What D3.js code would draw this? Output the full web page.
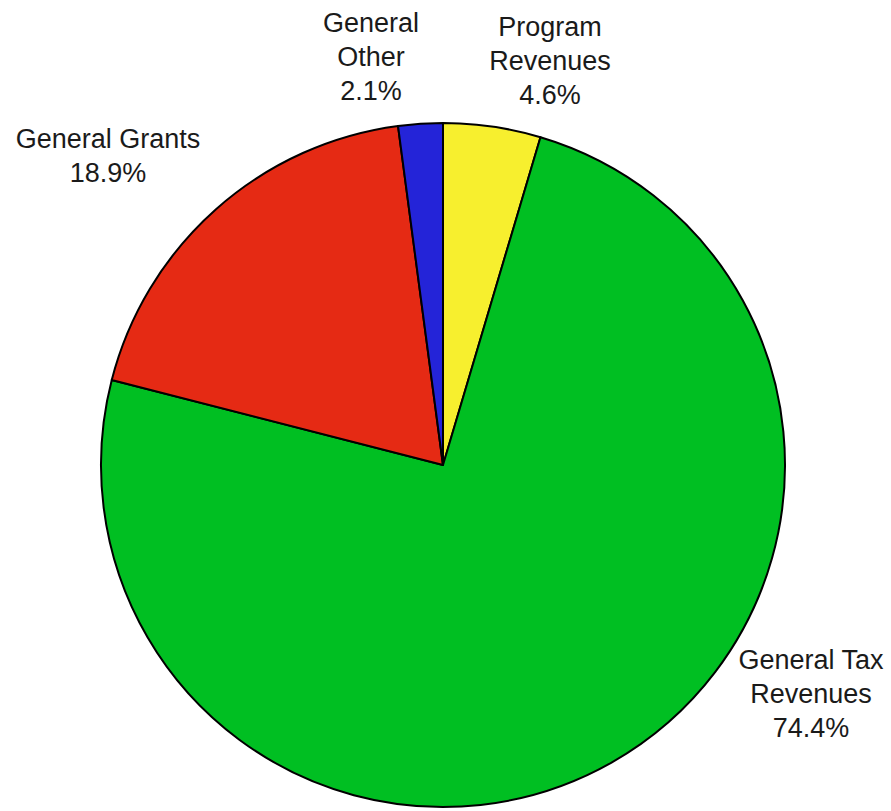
<!DOCTYPE html>
<html>
<head>
<meta charset="utf-8">
<script src="https://cdn.jsdelivr.net/npm/d3@7"></script>
<style>
  body { margin: 0; background: #fff; }
  text { font-family: "Liberation Sans", Arial, sans-serif; fill: #1a1a1a; }
</style>
</head>
<body>
<div id="chart"></div>
<script>
// Data
const categories = ["Program Revenues", "General Tax Revenues", "General Grants", "General Other"];
const shares = [4.6, 74.4, 18.9, 2.1];
const colors = ["#f7ef2e", "#00bf22", "#e52a14", "#2424d8"];
const labelLines = [
    ["Program", "Revenues"],
    ["General Tax", "Revenues"],
    ["General Grants"],
    ["General", "Other"]
];

// Layout
const width = 891, height = 811;
const cx = 443, cy = 465, radius = 342;
const lineHeight = 34;
// label anchor: x centre, baseline of first line
const labelAnchor = [
    { x: 550, y: 36 },
    { x: 811, y: 669 },
    { x: 108, y: 148 },
    { x: 371, y: 32 }
];

const data = categories.map((c, i) => ({ category: c, value: shares[i], color: colors[i], lines: labelLines[i] }));

const svg = d3.select("#chart").append("svg")
    .attr("width", width)
    .attr("height", height);

const g = svg.append("g").attr("transform", `translate(${cx},${cy})`);

const pie = d3.pie().sort(null).value(d => d.value);
const arc = d3.arc().innerRadius(0).outerRadius(radius);

g.selectAll("path")
    .data(pie(data))
    .enter().append("path")
    .attr("d", arc)
    .attr("fill", d => d.data.color)
    .attr("stroke", "#000")
    .attr("stroke-width", 2)
    .attr("stroke-linejoin", "round");

// Labels
const labels = svg.selectAll(".label")
    .data(data)
    .enter().append("text")
    .attr("class", "label")
    .attr("text-anchor", "middle")
    .attr("font-size", 27)
    .attr("transform", (d, i) => `translate(${labelAnchor[i].x},${labelAnchor[i].y})`);

labels.each(function(d) {
    const t = d3.select(this);
    const lines = d.lines.concat([d.value.toFixed(1) + "%"]);
    lines.forEach((l, j) => {
        t.append("tspan").attr("x", 0).attr("y", j * lineHeight).text(l);
    });
});
</script>
</body>
</html>
